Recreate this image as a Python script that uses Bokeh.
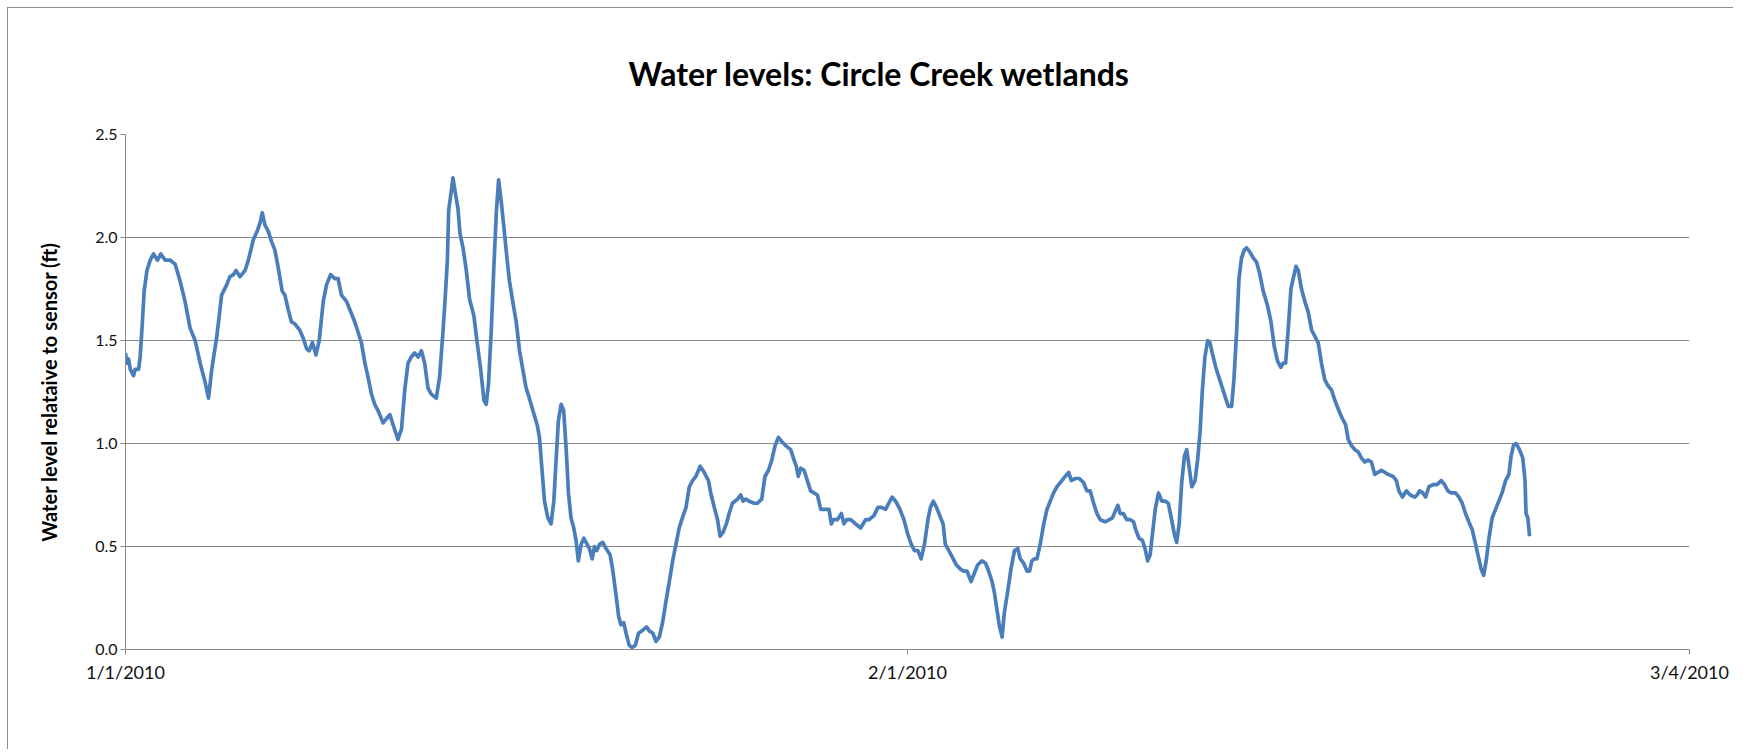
import pandas as pd
from bokeh.plotting import figure
from bokeh.models import Range1d, FixedTicker, PrintfTickFormatter
from bokeh.embed import file_html
from bokeh.resources import INLINE

# ---- data ----
day_offsets = [
    0.00, 0.05, 0.12, 0.19, 0.32, 0.38, 0.52, 0.58, 0.65, 0.74, 0.85, 0.98, 1.11, 1.27, 1.40, 1.57, 1.77, 1.97,
    2.16, 2.36, 2.56, 2.76, 2.96, 3.15, 3.29, 3.42, 3.62, 3.81, 4.01, 4.14, 4.28, 4.38, 4.54, 4.74, 4.87, 5.07,
    5.22, 5.33, 5.42, 5.53, 5.66, 5.79, 5.92, 6.06, 6.21, 6.32, 6.45, 6.58, 6.72, 6.91, 7.05, 7.18, 7.28, 7.41,
    7.55, 7.68, 7.84, 7.97, 8.13, 8.30, 8.43, 8.56, 8.76, 8.96, 9.09,
    9.22, 9.35, 9.49, 9.62, 9.75, 9.88, 10.01, 10.21, 10.34, 10.48, 10.61, 10.80, 10.94, 11.07, 11.20, 11.33,
    11.46, 11.60, 11.73, 11.86, 11.99, 12.12, 12.32, 12.45, 12.59, 12.68, 12.76, 12.81, 12.92, 12.98, 13.07,
    13.18, 13.26, 13.38, 13.51, 13.64, 13.81, 13.94, 14.08, 14.21, 14.30, 14.39, 14.50, 14.60, 14.70, 14.79,
    14.89, 15.00, 15.13, 15.22, 15.35, 15.49, 15.62, 15.75, 15.88, 16.01, 16.15, 16.32, 16.41, 16.50, 16.61,
    16.74, 16.87, 16.98, 17.07, 17.16, 17.27, 17.37, 17.47, 17.56, 17.66, 17.77, 17.86, 17.95, 18.06, 18.17,
    18.30,
    18.39, 18.50, 18.59, 18.68, 18.79, 18.92, 19.05, 19.21, 19.31, 19.45, 19.55, 19.64, 19.75, 19.84, 19.97,
    20.08, 20.21, 20.34, 20.47, 20.66, 20.76, 20.90, 21.03, 21.16, 21.29, 21.42, 21.56, 21.69, 21.82, 21.95,
    22.08, 22.22, 22.35, 22.48, 22.61, 22.78, 22.94, 23.11, 23.20, 23.34, 23.47, 23.57, 23.69, 23.82, 23.93,
    24.06, 24.26, 24.39, 24.48, 24.59, 24.72, 24.92, 25.05, 25.22, 25.35, 25.49, 25.62, 25.75, 25.88, 26.01,
    26.17, 26.37, 26.50, 26.59, 26.67, 26.77, 26.90, 27.03, 27.16, 27.29, 27.43, 27.56,
    27.69, 27.82, 27.89, 27.98, 28.06, 28.22, 28.38, 28.48, 28.59, 28.75, 28.94, 29.14, 29.34, 29.47, 29.67,
    29.83, 29.96, 30.13, 30.26, 30.39, 30.53, 30.70, 30.86, 31.01, 31.15, 31.28, 31.41, 31.54, 31.67, 31.81,
    31.91, 32.02, 32.15, 32.31, 32.41, 32.50, 32.64, 32.77, 32.94, 33.10, 33.23, 33.36, 33.52, 33.65, 33.78,
    33.95, 34.09, 34.22, 34.35, 34.44, 34.55, 34.65, 34.75, 34.84, 34.97, 35.10, 35.24, 35.37, 35.47, 35.60,
    35.74, 35.84, 35.93, 36.03, 36.13, 36.26, 36.40, 36.53, 36.66, 36.79, 36.92,
    36.99, 37.12, 37.25, 37.39, 37.49, 37.65, 37.81, 37.98, 38.11, 38.24, 38.38, 38.51, 38.64, 38.84, 39.00,
    39.13, 39.23, 39.34, 39.43, 39.56, 39.69, 39.83, 39.96, 40.05, 40.18, 40.31, 40.42, 40.52, 40.62, 40.71,
    40.82, 40.95, 41.08, 41.21, 41.34, 41.47, 41.58, 41.67, 41.77, 41.87, 41.98, 42.07, 42.16, 42.27, 42.40,
    42.50, 42.60, 42.69, 42.79, 42.90, 42.99, 43.08, 43.22, 43.35, 43.48, 43.61, 43.72, 43.85, 43.94, 44.05,
    44.14, 44.24, 44.35, 44.44, 44.57, 44.71, 44.84, 44.97, 45.10, 45.27, 45.41, 45.54, 45.67, 45.80, 45.89,
    45.99, 46.09, 46.20,
    46.29, 46.40, 46.49, 46.62, 46.75, 46.88, 47.02, 47.15, 47.28, 47.41, 47.54, 47.67, 47.81, 47.94, 48.07,
    48.20, 48.37, 48.47, 48.60, 48.73, 48.86, 48.99, 49.13, 49.26, 49.39, 49.52, 49.65, 49.79, 49.92, 50.05,
    50.25, 50.38, 50.48, 50.62, 50.78, 50.93, 51.11, 51.20, 51.30, 51.43, 51.54, 51.67, 51.83, 51.99, 52.16,
    52.29, 52.42, 52.55, 52.73, 52.86, 52.99, 53.12, 53.25, 53.39, 53.52, 53.65, 53.74, 53.84, 53.94, 54.05,
    54.18, 54.31, 54.44, 54.57, 54.71, 54.84, 54.93, 55.02, 55.13, 55.26, 55.39, 55.48, 55.52, 55.59, 55.66,
]

water_level_ft = [
    1.44, 1.39, 1.41, 1.36, 1.33, 1.36, 1.36, 1.42, 1.55, 1.74, 1.84, 1.89, 1.92, 1.89, 1.92, 1.89, 1.89, 1.87,
    1.79, 1.69, 1.56, 1.50, 1.39, 1.30, 1.22, 1.36, 1.52, 1.72, 1.77, 1.81, 1.82, 1.84, 1.81, 1.84, 1.89, 1.99,
    2.03, 2.07, 2.12, 2.06, 2.03, 1.98, 1.94, 1.85, 1.74, 1.72, 1.65, 1.59, 1.58, 1.55, 1.51, 1.46, 1.45, 1.49,
    1.43, 1.50, 1.69, 1.77, 1.82, 1.80, 1.80, 1.72, 1.69, 1.63, 1.59,
    1.54, 1.49, 1.39, 1.32, 1.24, 1.19, 1.16, 1.10, 1.12, 1.14, 1.09, 1.02, 1.07, 1.26, 1.39, 1.42,
    1.44, 1.42, 1.45, 1.39, 1.27, 1.24, 1.22, 1.32, 1.55, 1.72, 1.89, 2.13, 2.23, 2.29, 2.22,
    2.14, 2.02, 1.95, 1.84, 1.70, 1.62, 1.49, 1.36, 1.21, 1.19, 1.29, 1.55, 1.85, 2.12, 2.28,
    2.18, 2.05, 1.89, 1.79, 1.69, 1.59, 1.45, 1.36, 1.27, 1.22, 1.16, 1.09, 1.03, 0.89, 0.72,
    0.64, 0.61, 0.72, 0.92, 1.11, 1.19, 1.16, 0.97, 0.76, 0.64, 0.59, 0.53, 0.43, 0.51, 0.54,
    0.51,
    0.49, 0.44, 0.50, 0.48, 0.51, 0.52, 0.49, 0.46, 0.39, 0.26, 0.16, 0.12, 0.13, 0.08, 0.02,
    0.01, 0.02, 0.08, 0.09, 0.11, 0.09, 0.08, 0.04, 0.06, 0.13, 0.23, 0.33, 0.43, 0.51, 0.59,
    0.64, 0.69, 0.79, 0.82, 0.84, 0.89, 0.86, 0.82, 0.76, 0.69, 0.63, 0.55, 0.57, 0.61, 0.66,
    0.71, 0.73, 0.75, 0.72, 0.73, 0.72, 0.71, 0.71, 0.73, 0.84, 0.87, 0.92, 0.99, 1.03, 1.01,
    0.99, 0.97, 0.92, 0.89, 0.84, 0.88, 0.87, 0.82, 0.77, 0.76, 0.75, 0.68,
    0.68, 0.68, 0.68, 0.61, 0.63, 0.63, 0.66, 0.61, 0.63, 0.63, 0.61, 0.59, 0.63, 0.63, 0.65,
    0.69, 0.69, 0.68, 0.71, 0.74, 0.72, 0.68, 0.63, 0.56, 0.51, 0.48, 0.48, 0.44, 0.51, 0.63,
    0.69, 0.72, 0.69, 0.64, 0.61, 0.51, 0.48, 0.45, 0.41, 0.39, 0.38, 0.38, 0.33, 0.37, 0.41,
    0.43, 0.42, 0.38, 0.33, 0.28, 0.19, 0.11, 0.06, 0.18, 0.28, 0.39, 0.48, 0.49, 0.44, 0.42,
    0.38, 0.38, 0.43, 0.44, 0.44, 0.51, 0.61, 0.68, 0.72, 0.76, 0.79,
    0.80, 0.82, 0.84, 0.86, 0.82, 0.83, 0.83, 0.81, 0.77, 0.77, 0.71, 0.66, 0.63, 0.62, 0.63,
    0.64, 0.67, 0.70, 0.66, 0.66, 0.63, 0.63, 0.62, 0.58, 0.54, 0.53, 0.49, 0.43, 0.46, 0.56,
    0.68, 0.76, 0.72, 0.72, 0.71, 0.63, 0.56, 0.52, 0.61, 0.81, 0.94, 0.97, 0.89, 0.79, 0.82,
    0.92, 1.06, 1.26, 1.42, 1.50, 1.49, 1.44, 1.37, 1.32, 1.27, 1.22, 1.18, 1.18, 1.31, 1.55,
    1.80, 1.90, 1.94, 1.95, 1.93, 1.90, 1.88, 1.82, 1.74, 1.67, 1.59, 1.47, 1.40, 1.37, 1.39,
    1.39, 1.55, 1.75,
    1.80, 1.86, 1.84, 1.75, 1.69, 1.64, 1.55, 1.52, 1.49, 1.39, 1.31, 1.28, 1.26, 1.21, 1.17,
    1.13, 1.09, 1.02, 0.99, 0.97, 0.96, 0.93, 0.91, 0.92, 0.91, 0.85, 0.86, 0.87, 0.86, 0.85,
    0.84, 0.82, 0.77, 0.74, 0.77, 0.75, 0.74, 0.75, 0.77, 0.76, 0.74, 0.79, 0.80, 0.80, 0.82,
    0.80, 0.77, 0.76, 0.76, 0.74, 0.71, 0.66, 0.62, 0.58, 0.51, 0.44, 0.39, 0.36, 0.43, 0.54,
    0.64, 0.68, 0.72, 0.76, 0.82, 0.85, 0.94, 0.99, 1.00, 0.97, 0.93, 0.82, 0.66, 0.64, 0.55,
]

series_start = "2010-01-01"
x_start, x_end = "2010-01-01", "2010-03-04"
x_tick_dates = ["2010-01-01", "2010-02-01", "2010-03-04"]
x_tick_labels = ["1/1/2010", "2/1/2010", "3/4/2010"]
y_ticks = [0.0, 0.5, 1.0, 1.5, 2.0, 2.5]

title_text = "Water levels: Circle Creek wetlands"
y_label = "Water level relataive to sensor (ft)"

# ---- build ----
times = pd.Timestamp(series_start) + pd.to_timedelta(day_offsets, unit="D")

def to_ms(d):
    return pd.Timestamp(d).value / 1e6

FONT = "Lato"
GRID = "#8a8a8a"

p = figure(
    width=1726, height=742,
    x_axis_type="datetime",
    output_backend="svg", toolbar_location=None,
    x_range=Range1d(pd.Timestamp(x_start), pd.Timestamp(x_end)),
    y_range=Range1d(0, 2.5),
    min_border_left=117, min_border_right=45, min_border_top=126, min_border_bottom=101,
)
p.styles = {"margin-left": "7px", "margin-top": "7px",
            "border-left": "1px solid #8c8c8c", "border-top": "1px solid #8c8c8c"}

p.title.text = title_text
p.title.align = "left"
p.title.offset = 503
p.title.standoff = 84
p.title.text_font = FONT
p.title.text_font_size = "32px"
p.title.text_font_style = "bold"
p.title.text_color = "#000000"

p.line(times, water_level_ft, line_width=3.7, line_color="#4A7EBB", line_join="round")

p.outline_line_color = None
p.xgrid.visible = False
p.ygrid.ticker = FixedTicker(ticks=y_ticks)
p.ygrid.grid_line_color = GRID
p.ygrid.grid_line_width = 1

tick_ms = [to_ms(d) for d in x_tick_dates]
xa = p.xaxis[0]
xa.ticker = FixedTicker(ticks=tick_ms)
xa.major_label_overrides = {t: lab for t, lab in zip(tick_ms, x_tick_labels)}
xa.axis_line_color = GRID
xa.major_tick_line_color = GRID
xa.minor_tick_line_color = None
xa.major_tick_in = 0
xa.major_tick_out = 5
xa.major_label_standoff = 6
xa.major_label_text_font = FONT
xa.major_label_text_font_size = "18px"
xa.major_label_text_color = "#111111"

ya = p.yaxis[0]
ya.ticker = FixedTicker(ticks=y_ticks)
ya.formatter = PrintfTickFormatter(format="%.1f")
ya.axis_line_color = GRID
ya.major_tick_line_color = GRID
ya.minor_tick_line_color = None
ya.major_tick_in = 0
ya.major_tick_out = 5
ya.major_label_standoff = 3
ya.major_label_text_font = FONT
ya.major_label_text_font_size = "16px"
ya.major_label_text_color = "#111111"
ya.axis_label = y_label
ya.axis_label_text_font = FONT
ya.axis_label_text_font_size = "20px"
ya.axis_label_text_font_style = "bold"
ya.axis_label_text_color = "#000000"
ya.axis_label_standoff = 31

open("out.html", "w").write(file_html(p, INLINE))
